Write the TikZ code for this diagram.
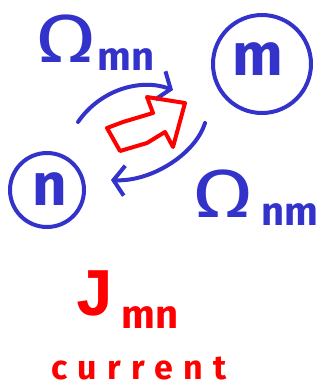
\documentclass[tikz,border=0pt]{standalone}
\usepackage{fontspec}
\setmainfont{Fira Sans}
\newfontfamily\handj{Liberation Mono}
\usetikzlibrary{arrows.meta}
\definecolor{pen}{RGB}{51,51,204}
\definecolor{ink}{RGB}{255,0,0}

\begin{document}
\begin{tikzpicture}[x=1pt, y=-1pt,
      stroke/.style={draw=pen, line width=4pt, line cap=round},
      site/.style={stroke, circle, inner sep=0pt},
      glyph/.style={text=pen, anchor=base, inner sep=0pt},
      big/.style={glyph, font=\fontsize{60}{60}\selectfont\bfseries},
      omega/.style={glyph, font=\fontsize{68}{68}\selectfont},
      sub/.style={glyph, font=\fontsize{40}{40}\selectfont\bfseries},
      hot/.style={text=ink, anchor=base, inner sep=0pt},
      >={Straight Barb[length=11pt, width=30pt]}]
    \useasboundingbox (0,0) rectangle (326,392);
    % the two sites
    \node[site, minimum width=72pt, minimum height=74pt] (n) at (47,190) {};
    \node[big] (nlab) at (50,205) {n};
    \node[site, minimum width=96pt, minimum height=98pt] (m) at (262,64) {};
    \node[big] (mlab) at (258,75) {m};
    % hopping rates
    \node[omega] (omn) at (66,62) {\scalebox{1.3}[1]{Ω}};
    \node[sub]   (smn) at (126,70) {mn};
    \node[omega] (onm) at (223,217) {\scalebox{1.3}[1]{Ω}};
    \node[sub]   (snm) at (290,225) {nm};
    % arc ends
    \coordinate (up-s) at (78,122);
    \coordinate (up-e) at (173,90);
    \coordinate (lo-s) at (205,123);
    \coordinate (lo-e) at (111,180);
    \draw[stroke, ->] (up-s) .. controls (100,90) and (140,78) .. (up-e);
    \draw[stroke, ->] (lo-s) .. controls (195,155) and (150,182) .. (lo-e);
    % current arrow
    \draw[ink, line width=4pt, line join=round]
      (107,128) -- (120,151) -- (147,143) -- (165,132) -- (173,147)
      -- (185,103) -- (147,97) -- (153,113) -- (123,122) -- cycle;
    \node[hot, font=\fontsize{68}{68}\selectfont\handj\bfseries] (J) at (95,315) {J};
    \node[hot, font=\fontsize{40}{40}\selectfont\bfseries] (Jsub) at (150,328) {mn};
    \node[hot, font=\fontsize{34}{34}\selectfont\bfseries\addfontfeature{LetterSpace=30}] (cur) at (139,379) {current};
\end{tikzpicture}
\end{document}
